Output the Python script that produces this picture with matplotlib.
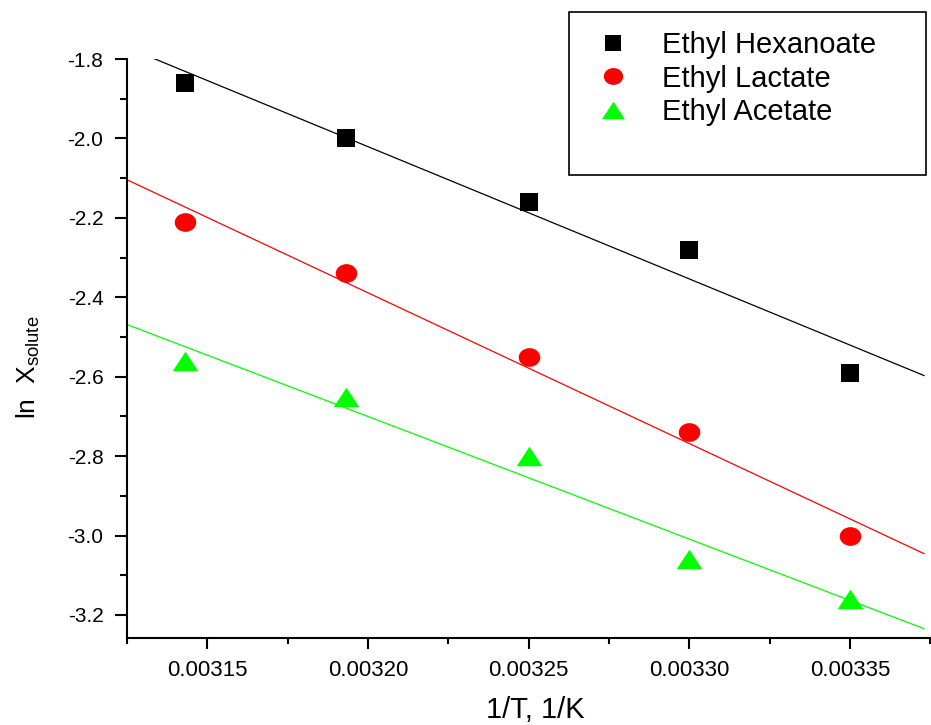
import numpy as np
import matplotlib
matplotlib.use('Agg')
import matplotlib.pyplot as plt
from matplotlib.lines import Line2D
from matplotlib.patches import Rectangle
from matplotlib.path import Path
from matplotlib.transforms import Affine2D

plt.rcParams['font.family'] = ['Liberation Sans', 'DejaVu Sans']
plt.rcParams['mathtext.fontset'] = 'custom'
plt.rcParams['mathtext.rm'] = 'Liberation Sans'
plt.rcParams['mathtext.it'] = 'Liberation Sans'

# 1/T, 1/K
inv_t = [0.003143, 0.003193, 0.003250, 0.003300, 0.003350]
# ln X_solute
hexanoate = [-1.86, -2.00, -2.16, -2.28, -2.59]
lactate = [-2.21, -2.34, -2.55, -2.74, -3.00]
acetate = [-2.56, -2.65, -2.80, -3.06, -3.16]

names = ['Ethyl Hexanoate', 'Ethyl Lactate', 'Ethyl Acetate']
colors = ['#000000', '#ff0000', '#00ff00']

# markers: square, flat ellipse, wide triangle
ellipse = Path.unit_circle().transformed(Affine2D().scale(1.15, 1.0))
triangle = [(-1.0, -0.76), (1.0, -0.76), (0.0, 0.76), (-1.0, -0.76)]
markers = ['s', ellipse, triangle]
msizes = [13.4, 15.5, 18.5]

fig = plt.figure(figsize=(9.31, 7.25), dpi=100)
ax = fig.add_axes([0.1364, 0.12, 0.863, 0.7986])

xlim = (0.003125, 0.003373)
ylim = (-3.258, -1.8)

series = [hexanoate, lactate, acetate]
handles = []
for ys, name, c, m, ms in zip(series, names, colors, markers, msizes):
    ax.plot(inv_t, ys, linestyle='none', marker=m, markersize=ms,
            color=c, markeredgewidth=0, zorder=3)
    # linear fit drawn across the whole x range
    k, b = np.polyfit(inv_t, ys, 1)
    xs = np.array(xlim)
    ax.plot(xs, k * xs + b, color=c, linewidth=0.9, zorder=2)
    handles.append(Line2D([], [], linestyle='none', marker=m, markersize=ms * 0.9,
                          color=c, markeredgewidth=0))

ax.set_xlim(*xlim)
ax.set_ylim(*ylim)

ax.set_xticks([0.00315, 0.00320, 0.00325, 0.00330, 0.00335])
ax.set_xticklabels(['0.00315', '0.00320', '0.00325', '0.00330', '0.00335'])
ax.set_xticks(np.arange(0.003125, 0.0033751, 0.00005), minor=True)
ax.set_yticks([-1.8, -2.0, -2.2, -2.4, -2.6, -2.8, -3.0, -3.2])
ax.set_yticklabels(['-1.8', '-2.0', '-2.2', '-2.4', '-2.6', '-2.8', '-3.0', '-3.2'])
ax.set_yticks(np.arange(-1.9, -3.25, -0.2), minor=True)

for s in ['top', 'right']:
    ax.spines[s].set_visible(False)
for s in ['left', 'bottom']:
    ax.spines[s].set_linewidth(1.5)

ax.tick_params(axis='x', which='major', length=8, width=1.5, labelsize=16, pad=8)
ax.tick_params(axis='x', which='minor', length=4, width=1.5)
ax.tick_params(axis='y', which='major', length=9, width=1.5, labelsize=15, pad=8)
ax.tick_params(axis='y', which='minor', length=5, width=1.5)

ax.set_xlabel('1/T, 1/K', fontsize=21)
ax.set_ylabel(r'ln  X$_{\mathregular{solute}}$', fontsize=19)
ax.xaxis.set_label_coords(0.508, -0.1)
ax.yaxis.set_label_coords(-0.106, 0.468)

# legend frame is taller than its entries
fig.patches.append(Rectangle((0.611, 0.7586), 0.3835, 0.2248, transform=fig.transFigure,
                             fill=False, edgecolor='black', linewidth=1.2, zorder=5))
fig.legend(handles, names, loc='upper left', bbox_to_anchor=(0.6434, 0.9575),
           frameon=False, fontsize=21, handlelength=0.95, handletextpad=1.2,
           labelspacing=0.2, borderpad=0, borderaxespad=0)

fig.savefig('out.png', dpi=100)
